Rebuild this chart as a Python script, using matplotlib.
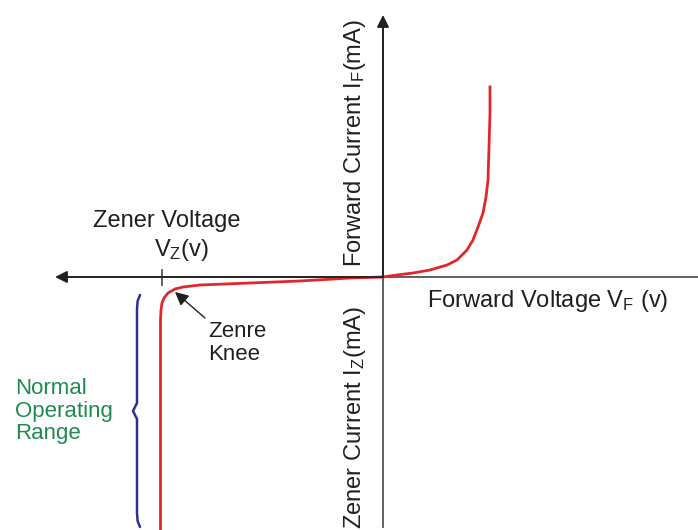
import matplotlib

matplotlib.use("Agg")

import matplotlib.pyplot as plt
import numpy as np

# diagram units: origin at the crossing of the two axes
forward_v = [0, 14, 30, 47, 64, 74, 84, 90, 95, 100, 103, 105, 106, 107, 107]
forward_i = [0, 2, 4, 7, 12, 17, 27, 37, 50, 64, 80, 97, 130, 164, 190]

reverse_v = [0, -33, -83, -133, -183, -200, -208, -215, -219, -221, -222, -222.5, -222.5]
reverse_i = [0, -1, -4, -6, -8, -10, -12, -16, -21, -26, -33, -43, -253]

zener_voltage = -221.5
knee_point = (-208, -15)
range_top, range_bottom = -18, -250

AXIS = "#555555"
RED = "#e3262b"
BLUE = "#2e3192"
GREEN = "#1f8a4f"
TEXT = "#231f20"


def draw_brace(ax, x, y0, y1, depth=4, curl=3):
    mid = (y0 + y1) / 2
    xs = [x + curl, x + 0.6, x, x, x - depth, x, x, x + 0.6, x + curl]
    ys = [y0, y0 - 6, y0 - 14, mid + 8, mid, mid - 8, y1 + 14, y1 + 6, y1]
    ax.plot(xs, ys, color=BLUE, lw=1.8, solid_capstyle="round", solid_joinstyle="round")


def main() -> None:
    plt.rcParams["font.family"] = ["Liberation Sans", "DejaVu Sans"]
    plt.rcParams["mathtext.fontset"] = "custom"
    plt.rcParams["mathtext.rm"] = "Liberation Sans"

    fig = plt.figure(figsize=(6.98, 5.30), dpi=100)
    ax = fig.add_axes([0, 0, 1, 1])
    ax.set_xlim(-383, 315)
    ax.set_ylim(-253, 277)
    ax.axis("off")

    head = dict(arrowstyle="-|>", color=TEXT, lw=1.3, mutation_scale=18, shrinkA=0, shrinkB=0)
    ax.annotate("", xy=(-328, 0), xytext=(0, 0), arrowprops=head)
    ax.plot([-315, 315], [0, 0], color=AXIS, lw=1.3)
    ax.annotate("", xy=(0, 262), xytext=(0, 0), arrowprops=head)
    ax.annotate("", xy=(0, -262), xytext=(0, 0), arrowprops=head)
    ax.plot([0, 0], [-250, 250], color=AXIS, lw=1.3)
    ax.plot([zener_voltage, zener_voltage], [7, -8], color=AXIS, lw=1.3)

    ax.plot(forward_v, forward_i, color=RED, lw=2.0, solid_joinstyle="round")
    ax.plot(reverse_v, reverse_i, color=RED, lw=2.0, solid_joinstyle="round")

    draw_brace(ax, -246, range_top, range_bottom)

    ax.text(-216, 56, "Zener Voltage", fontsize=17, color=TEXT, ha="center", va="center")
    ax.text(-202, 27, r"$\mathregular{V_Z}$(v)", fontsize=17, color=TEXT, ha="center", va="center")
    ax.text(-28, 134, r"Forward Current $\mathregular{I_F}$(mA)", fontsize=17, color=TEXT,
            rotation=90, ha="center", va="center")
    ax.text(-28, -141, r"Zener Current $\mathregular{I_Z}$(mA)", fontsize=17, color=TEXT,
            rotation=90, ha="center", va="center")
    ax.text(44, -24, r"Forward Voltage $\mathregular{V_F}$ (v)", fontsize=17, color=TEXT,
            ha="left", va="center")
    ax.text(-175, -66, "Zenre\nKnee", fontsize=16, color=TEXT, ha="left", va="center",
            linespacing=1.15)
    ax.annotate("", xy=knee_point, xytext=(-178, -41),
                arrowprops=dict(arrowstyle="-|>", color=TEXT, lw=1.0, mutation_scale=20,
                                shrinkA=0, shrinkB=0))
    ax.text(-368, -134, "Normal\nOperating\nRange", fontsize=16, color=GREEN, ha="left",
            va="center", linespacing=1.12)

    fig.savefig("out.png", dpi=100)
    plt.close(fig)


if __name__ == "__main__":
    main()
